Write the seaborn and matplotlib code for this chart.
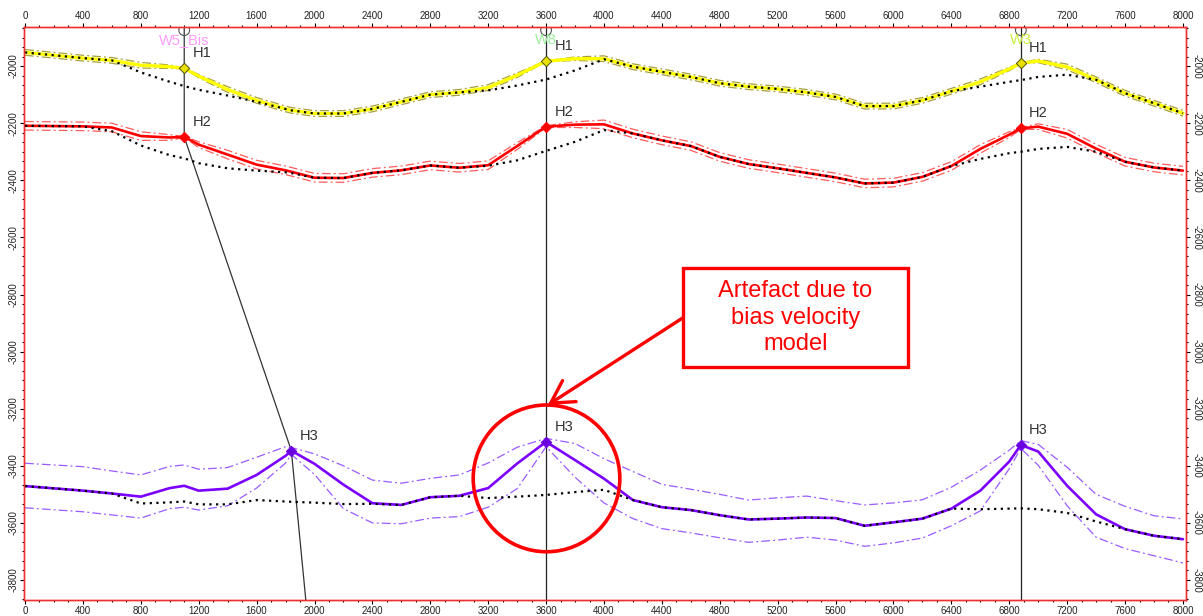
import matplotlib
matplotlib.use("Agg")
import matplotlib.pyplot as plt
import seaborn as sns
from matplotlib.patches import Rectangle, Ellipse
from matplotlib.ticker import MultipleLocator, AutoMinorLocator

# ---------------- data ----------------
X = [0, 200, 400, 600, 800, 1000, 1100, 1200, 1400, 1600, 1800, 1840, 2000, 2200,
     2400, 2600, 2800, 3000, 3200, 3400, 3600, 3800, 4000, 4200, 4400, 4600, 4800,
     5000, 5200, 5400, 5600, 5800, 6000, 6200, 6400, 6600, 6800, 6880, 7000, 7200,
     7400, 7600, 7800, 8000]

H1 = [-1952, -1962, -1972, -1980, -1997, -2002, -2008, -2035, -2082, -2120, -2150,
      -2155, -2166, -2166, -2150, -2125, -2100, -2092, -2075, -2032, -1983, -1974,
      -1974, -2002, -2020, -2038, -2060, -2072, -2080, -2092, -2108, -2140, -2140,
      -2120, -2088, -2055, -2010, -1990, -1982, -2003, -2048, -2095, -2130, -2165]
H1_orig = [-1952, -1962, -1972, -1980, -2022, -2055, -2070, -2083, -2103, -2125,
           -2150, -2155, -2166, -2166, -2150, -2125, -2100, -2092, -2085, -2068,
           -2047, -2015, -1976, -2002, -2020, -2038, -2060, -2072, -2080, -2092,
           -2108, -2140, -2140, -2120, -2088, -2072, -2055, -2049, -2038, -2030,
           -2048, -2095, -2130, -2165]
H1_err = [10, 10, 10, 10, 10, 6, 1, 6, 10, 10, 10, 10, 10, 10, 10, 10, 10, 10, 10,
          8, 2, 6, 10, 10, 10, 10, 10, 10, 10, 10, 10, 10, 10, 10, 10, 10, 6, 2, 6,
          10, 10, 10, 10, 10]

H2 = [-2209, -2210, -2211, -2215, -2245, -2250, -2248, -2275, -2310, -2345, -2365,
      -2370, -2391, -2392, -2374, -2365, -2348, -2356, -2347, -2280, -2212, -2205,
      -2204, -2236, -2260, -2280, -2318, -2343, -2358, -2374, -2390, -2411, -2408,
      -2388, -2350, -2290, -2240, -2218, -2212, -2237, -2289, -2335, -2355, -2366]
H2_orig = [-2209, -2210, -2211, -2228, -2278, -2312, -2323, -2340, -2358, -2366,
           -2372, -2375, -2391, -2392, -2374, -2365, -2348, -2356, -2349, -2330,
           -2297, -2265, -2224, -2236, -2260, -2280, -2318, -2343, -2358, -2374,
           -2390, -2411, -2408, -2388, -2350, -2325, -2305, -2300, -2290, -2283,
           -2300, -2335, -2355, -2366]
H2_err = [15, 15, 15, 15, 15, 10, 2, 10, 15, 15, 15, 15, 15, 15, 15, 15, 15, 15, 15,
          12, 3, 10, 15, 15, 15, 15, 15, 15, 15, 15, 15, 15, 15, 15, 15, 15, 10, 3,
          10, 15, 15, 15, 15, 15]

H3 = [-3471, -3479, -3487, -3497, -3508, -3478, -3470, -3487, -3480, -3432, -3365,
      -3347, -3393, -3466, -3531, -3537, -3510, -3505, -3478, -3392, -3316, -3380,
      -3445, -3520, -3545, -3555, -3573, -3588, -3585, -3581, -3583, -3610, -3598,
      -3585, -3550, -3487, -3385, -3327, -3350, -3470, -3570, -3622, -3645, -3657]
H3_orig = [-3471, -3479, -3487, -3497, -3532, -3528, -3525, -3535, -3535, -3520,
           -3525, -3526, -3529, -3534, -3533, -3537, -3510, -3505, -3513, -3508,
           -3502, -3492, -3484, -3520, -3545, -3555, -3573, -3588, -3585, -3581,
           -3583, -3610, -3598, -3585, -3550, -3552, -3550, -3549, -3552, -3565,
           -3595, -3622, -3645, -3657]
H3_up = [-3391, -3397, -3403, -3418, -3432, -3402, -3397, -3412, -3406, -3370, -3333,
         -3336, -3358, -3400, -3450, -3461, -3444, -3432, -3390, -3335, -3304, -3322,
         -3375, -3420, -3465, -3482, -3500, -3520, -3512, -3506, -3522, -3537, -3530,
         -3519, -3475, -3415, -3345, -3312, -3325, -3405, -3500, -3542, -3575, -3586]
H3_low = [-3547, -3554, -3561, -3572, -3583, -3550, -3545, -3555, -3540, -3478, -3390,
          -3360, -3430, -3550, -3600, -3603, -3583, -3578, -3545, -3480, -3333, -3440,
          -3530, -3585, -3620, -3635, -3652, -3668, -3660, -3650, -3660, -3682, -3670,
          -3653, -3610, -3558, -3410, -3339, -3398, -3540, -3650, -3690, -3715, -3740]

WELLS = ["W5_Bis", "W8", "W3"]
WELL_X = [1100, 3600, 6880]
TIE_X = {"H1": [1100, 3600, 6880], "H2": [1100, 3600, 6880], "H3": [1840, 3600, 6880]}
W5_PATH_X = [1100, 1100, 1840, 1940]
W5_PATH_Y = [-1863, -2248, -3347, -3870]

X_TICKS = list(range(0, 8001, 400))
Y_TICKS = list(range(-3800, -1999, 200))
ANNOT_TEXT = "Artefact due to\nbias velocity\nmodel"

# ---------------- styling ----------------
sns.set_theme(style="white")
plt.rcParams["font.family"] = ["Liberation Sans", "DejaVu Sans"]
plt.rcParams["axes.unicode_minus"] = False

W, H = 1203, 616
fig = plt.figure(figsize=(W / 100, H / 100), dpi=100)
ax = fig.add_axes([24 / W, 16 / H, 1162 / W, 573 / H])
XMIN, XMAX, YMIN, YMAX = -7, 8021, -3870, -1863
ax.set_xlim(XMIN, XMAX)
ax.set_ylim(YMIN, YMAX)


def line(xs, ys, **kw):
    sns.lineplot(x=xs, y=ys, ax=ax, estimator=None, sort=False, legend=False, **kw)


# well lines
for wx in WELL_X[1:]:
    ax.axvline(wx, color="#222222", lw=0.9, zorder=1)
line(W5_PATH_X, W5_PATH_Y, color="#333333", lw=0.9, zorder=1)

dashdot = (0, (7, 2.5, 1.5, 2.5))
dots = (0, (1, 2))

horizons = [
    ("H1", H1, H1_orig, [a + e for a, e in zip(H1, H1_err)], [a - e for a, e in zip(H1, H1_err)],
     "#ffff00", "#a8a040", 2.4, "#e8e000"),
    ("H2", H2, H2_orig, [a + e for a, e in zip(H2, H2_err)], [a - e for a, e in zip(H2, H2_err)],
     "#ff0000", "#ff5c5c", 1.9, "#ff0000"),
    ("H3", H3, H3_orig, H3_up, H3_low, "#7b00ff", "#9a5cff", 1.9, "#6a00e0"),
]

for name, sol, orig, up, low, col, bcol, lw, mcol in horizons:
    line(X, up, color=bcol, lw=0.9, linestyle=dashdot, zorder=2)
    line(X, low, color=bcol, lw=0.9, linestyle=dashdot, zorder=2)
    line(X, sol, color=col, lw=lw, zorder=3)
    line(X, orig, color="black", lw=1.6, linestyle=dots, zorder=4)
    tx = TIE_X[name]
    ty = [sol[X.index(v)] for v in tx]
    sns.scatterplot(x=tx, y=ty, ax=ax, marker="D", s=28, color=mcol,
                    edgecolor="#555500" if name == "H1" else mcol, linewidth=0.7,
                    zorder=6, legend=False)
    for px_, py_ in zip(tx, ty):
        ax.annotate(name, (px_, py_), xytext=(6, 8), textcoords="offset points",
                    ha="left", va="baseline", fontsize=10.5, color="#333333", zorder=7)

# well heads and names
well_colors = ["#ff9cff", "#9cf09c", "#c8ee3c"]
sns.scatterplot(x=WELL_X, y=[YMAX - 11] * 3, ax=ax, marker="o", s=60,
                facecolor="none", edgecolor="#555555", linewidth=0.8, zorder=5, legend=False)
for wname, wx, wc in zip(WELLS, WELL_X, well_colors):
    ax.text(wx, -1923, wname, ha="center", va="baseline", fontsize=10.5, color=wc, zorder=5)

# annotation
ax.add_patch(Rectangle((4544, -3054), 1554, 347, facecolor="white", edgecolor="#ff0000",
                       lw=2.4, zorder=8))
ax.text(5321, -2881, ANNOT_TEXT, ha="center", va="center", fontsize=17, color="#ff0000",
        linespacing=1.28, zorder=9)
ax.annotate("", xy=(3612, -3187), xytext=(4544, -2882),
            arrowprops=dict(arrowstyle="->,head_length=0.8,head_width=0.45", lw=2.4,
                            color="#ff0000", mutation_scale=20, shrinkA=0, shrinkB=0),
            zorder=9)
ax.add_patch(Ellipse((3603, -3444), 1013, 514, facecolor="none", edgecolor="#ff0000",
                     lw=2.6, zorder=9))

# axes / ticks
ax.set_xticks(X_TICKS)
ax.set_yticks(Y_TICKS)
ax.xaxis.set_minor_locator(MultipleLocator(100))
ax.yaxis.set_minor_locator(AutoMinorLocator(6))
ax.tick_params(axis="both", which="both", direction="out", color="black", width=0.8)
ax.tick_params(axis="x", which="both", top=True, bottom=True, labeltop=True,
               labelbottom=True, labelsize=7, pad=1.5, labelcolor="#222222")
ax.tick_params(axis="y", which="both", left=True, right=False, labelleft=True,
               labelright=False, labelsize=7, pad=1.5, labelcolor="#222222", labelrotation=90)
ax.tick_params(which="major", length=2.6)
ax.tick_params(which="minor", length=1.6)
for lab in ax.get_yticklabels():
    lab.set_va("center")
ax.set_xlabel("")
ax.set_ylabel("")

# right-hand axis with labels reading downwards
ax2 = ax.twinx()
ax2.set_ylim(YMIN, YMAX)
ax2.set_yticks(Y_TICKS)
ax2.yaxis.set_minor_locator(AutoMinorLocator(6))
ax2.tick_params(axis="y", which="both", direction="out", color="black", width=0.8,
                right=True, labelright=True, labelsize=7, pad=1.5, labelcolor="#222222",
                labelrotation=-90)
ax2.tick_params(which="major", length=2.6)
ax2.tick_params(which="minor", length=1.6)
for lab in ax2.get_yticklabels():
    lab.set_va("center")
ax2.grid(False)

for a in (ax, ax2):
    for s in a.spines.values():
        s.set_color("#f03030")
        s.set_linewidth(1.0)
        s.set_visible(True)

fig.savefig("out.png", dpi=100)
